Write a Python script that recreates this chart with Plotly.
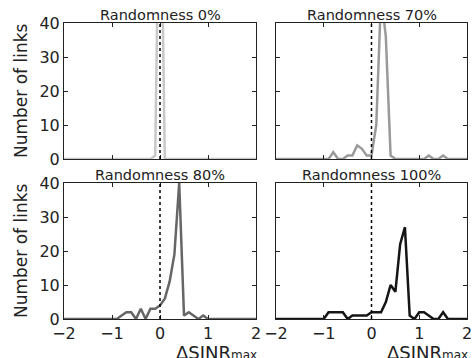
import plotly.graph_objects as go

# ---- data ----
titles = ["Randomness 0%", "Randomness 70%", "Randomness 80%", "Randomness 100%"]

x_r0 = [-2, -0.2, -0.1, 0.0, 0.1, 2]
y_r0 = [0, 0, 1, 100, 0, 0]

x_r70 = [-2, -0.9, -0.8, -0.7, -0.6, -0.5, -0.4, -0.3, -0.2, -0.1, 0.0, 0.1, 0.2, 0.3, 0.4, 0.5,
         1.1, 1.2, 1.3, 1.4, 1.5, 1.6, 2]
y_r70 = [0, 0, 2, 0, 0, 1, 1, 4, 3, 1, 1, 10, 48, 36, 1, 0,
         0, 1, 0, 0, 1, 0, 0]

x_r80 = [-2, -0.9, -0.8, -0.7, -0.6, -0.5, -0.4, -0.3, -0.2, -0.1, 0.0, 0.1, 0.2, 0.3, 0.4, 0.5,
         0.6, 0.7, 0.8, 0.9, 1.0, 2]
y_r80 = [0, 0, 1, 2, 2, 0, 3, 0, 3, 3, 4, 6, 11, 19, 40, 1,
         2, 1, 0, 1, 0, 0]

x_r100 = [-2, -1.0, -0.9, -0.8, -0.7, -0.6, -0.5, -0.4, -0.3, -0.2, -0.1, 0.0, 0.1, 0.2, 0.3, 0.4,
          0.5, 0.6, 0.7, 0.8, 0.9, 1.0, 1.1, 1.2, 1.3, 1.4, 1.5, 1.6, 2]
y_r100 = [0, 0, 2, 2, 2, 2, 0, 1, 1, 1, 1, 2, 2, 2, 5, 10,
          8, 22, 27, 1, 0, 2, 2, 1, 0, 0, 2, 0, 0]

x_ticks = [-2, -1, 0, 1, 2]
y_ticks = [0, 10, 20, 30, 40]
x_range = [-2, 2]
y_range = [0, 40]
ref_x = 0

series = [(x_r0, y_r0, "#c8c8c8"), (x_r70, y_r70, "#9a9a9a"),
          (x_r80, y_r80, "#666666"), (x_r100, y_r100, "#151515")]

# ---- layout geometry ----
W, H = 476, 358
ml, mr, mt, mb = 64, 9, 23, 39
pw, ph = W - ml - mr, H - mt - mb
xdoms = [[0, 192 / pw], [(276 - ml) / pw, 1]]
ydoms = [[(319 - 159) / ph, 1], [0, (319 - 183) / ph]]

FONT = "DejaVu Sans"
TXT = "#222222"

fig = go.Figure()
for i, (xs, ys, col) in enumerate(series):
    r, c = divmod(i, 2)
    n = "" if i == 0 else str(i + 1)
    fig.add_trace(go.Scatter(x=xs, y=ys, mode="lines", line=dict(color=col, width=2.5),
                             xaxis="x" + n, yaxis="y" + n, showlegend=False, hoverinfo="skip"))
    fig.update_layout(**{
        "xaxis" + n: dict(domain=xdoms[c], anchor="y" + n, range=x_range, tickvals=x_ticks,
                          showticklabels=(r == 1), ticks="inside", ticklen=4, tickcolor="#222",
                          showline=True, mirror="allticks", linecolor="#222", linewidth=1,
                          showgrid=False, zeroline=False, automargin=False,
                          tickfont=dict(family=FONT, size=16, color=TXT)),
        "yaxis" + n: dict(domain=ydoms[r], anchor="x" + n, range=y_range, tickvals=y_ticks,
                          showticklabels=(c == 0), ticks="inside", ticklen=4, tickcolor="#222",
                          showline=True, mirror="allticks", linecolor="#222", linewidth=1,
                          showgrid=False, zeroline=False, automargin=False,
                          tickfont=dict(family=FONT, size=16, color=TXT)),
    })
    fig.add_shape(type="line", xref="x" + n, yref="y" + n + " domain", x0=ref_x, x1=ref_x,
                  y0=0, y1=1, line=dict(color="#000", width=1.5, dash="dot"))
    fig.add_annotation(text=titles[i], xref="x" + n + " domain", yref="y" + n + " domain",
                       x=0.5, y=1, xanchor="center", yanchor="bottom", showarrow=False,
                       yshift=-2, font=dict(family=FONT, size=14.5, color=TXT))
    if c == 0:
        fig.add_annotation(text="Number of links", xref="paper", yref="y" + n + " domain",
                           x=(21 - ml) / pw, y=0.5, xanchor="center", yanchor="middle",
                           textangle=-90, showarrow=False,
                           font=dict(family=FONT, size=17, color=TXT))
    if r == 1:
        fig.add_annotation(text="ΔSINR<span style='font-size:12px'>max</span>",
                           xref="x" + n + " domain", yref="paper",
                           x=1, y=(319 - 340) / ph, xanchor="right", yanchor="top",
                           xshift=3, showarrow=False,
                           font=dict(family=FONT, size=18, color=TXT))

fig.update_layout(width=W, height=H, margin=dict(l=ml, r=mr, t=mt, b=mb, autoexpand=False),
                  paper_bgcolor="white", plot_bgcolor="white",
                  font=dict(family=FONT, color=TXT))
fig.write_html("out.html", config={"displayModeBar": False},
               post_script="document.body.style.margin='0';document.body.style.overflow='hidden';")
